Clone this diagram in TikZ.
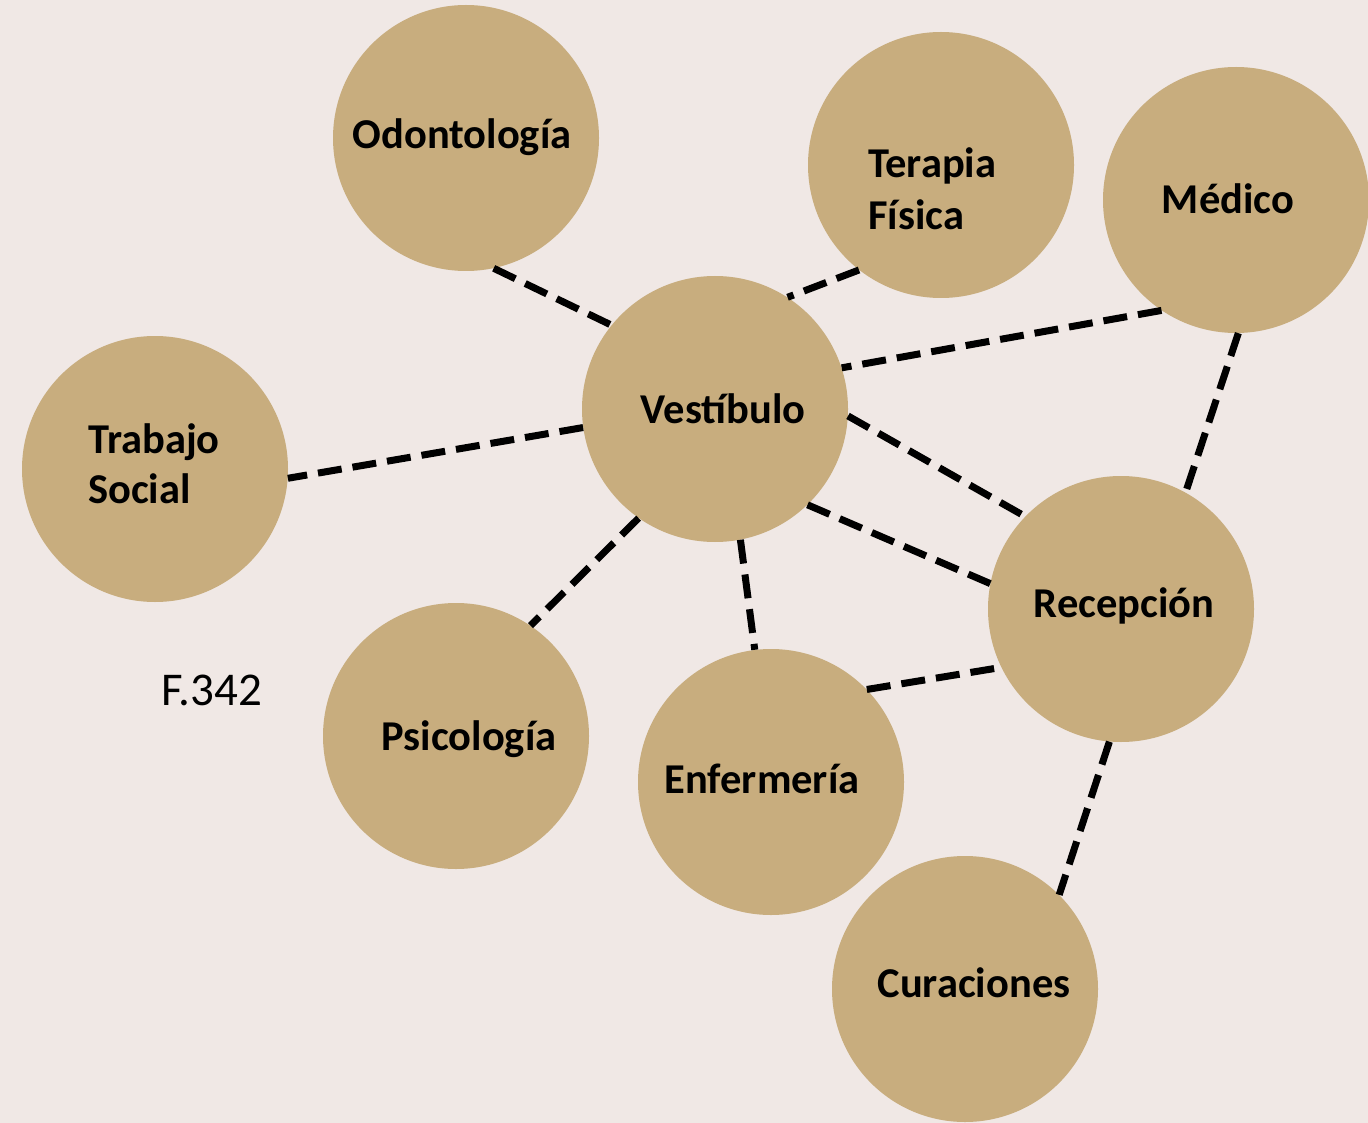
\documentclass[tikz,border=0pt]{standalone}
\usepackage{fontspec}
\setmainfont{Carlito}
\definecolor{bgc}{HTML}{F0E8E5}
\definecolor{tan}{HTML}{C8AD7E}
\tikzset{
  room/.style={circle, fill=tan, draw=none, minimum size=266pt, inner sep=0pt},
  lbl/.style={font=\fontsize{42.5}{50}\selectfont\bfseries, text=black, inner sep=0pt, anchor=base},
  lblw/.style={lbl, anchor=base west},
  conn/.style={line width=7pt, draw=black, dash pattern=on 24pt off 11pt, line cap=butt},
}
\begin{document}
\begin{tikzpicture}[x=1pt,y=-1pt]
\useasboundingbox (0,0) rectangle (1368,1123);
\fill[bgc] (0,0) rectangle (1368,1123);
% circles
\node[room] (odo) at (466,138) {};
\node[room] (ter) at (941,165) {};
\node[room] (med) at (1236,200) {};
\node[room] (ves) at (715,409) {};
\node[room] (tra) at (155,469) {};
\node[room] (rec) at (1121,609) {};
\node[room] (psi) at (456,736) {};
\node[room] (enf) at (771,782) {};
\node[room] (cur) at (965,989) {};
% connectors
\draw[conn] (odo.-78.7) -- (ves.141);
\draw[conn] (ter.-128) -- (ves.57);
\draw[conn] (med.-124.4) -- (ves.18.6);
\draw[conn] (med.-89.6) -- (rec.61);
\draw[conn] (ves.-172.7) -- (tra.-4.7);
\draw[conn] (ves.-3.4) -- (rec.136);
\draw[conn] (ves.-46) -- (rec.169);
\draw[conn] (ves.-125.5) -- (psi.56);
\draw[conn] (ves.-79.6) -- (enf.97);
\draw[conn] (enf.44.7) -- (rec.-154.6);
\draw[conn] (rec.-95.5) -- (cur.45.6);
% labels
\node[lbl] (odot) at (462,149) {Odontología};
\node[lblw] (tert1) at (868,178) {Terapia};
\node[lblw] (tert2) at (868,230) {Física};
\node[lbl] (medt) at (1228,214) {Médico};
\node[lbl] (vest) at (723,423) {Vestíbulo};
\node[lblw] (trat1) at (88,453) {Trabajo};
\node[lblw] (trat2) at (88,503) {Social};
\node[lbl] (rect) at (1124,617) {Recepción};
\node[lbl] (psit) at (469,750) {Psicología};
\node[lbl] (enft) at (762,793) {Enfermería};
\node[lbl] (curt) at (974,997) {Curaciones};
\node[font=\fontsize{47}{55}\selectfont, text=black, inner sep=0pt, anchor=base] (fnum) at (212,705) {F.342};
\end{tikzpicture}
\end{document}
